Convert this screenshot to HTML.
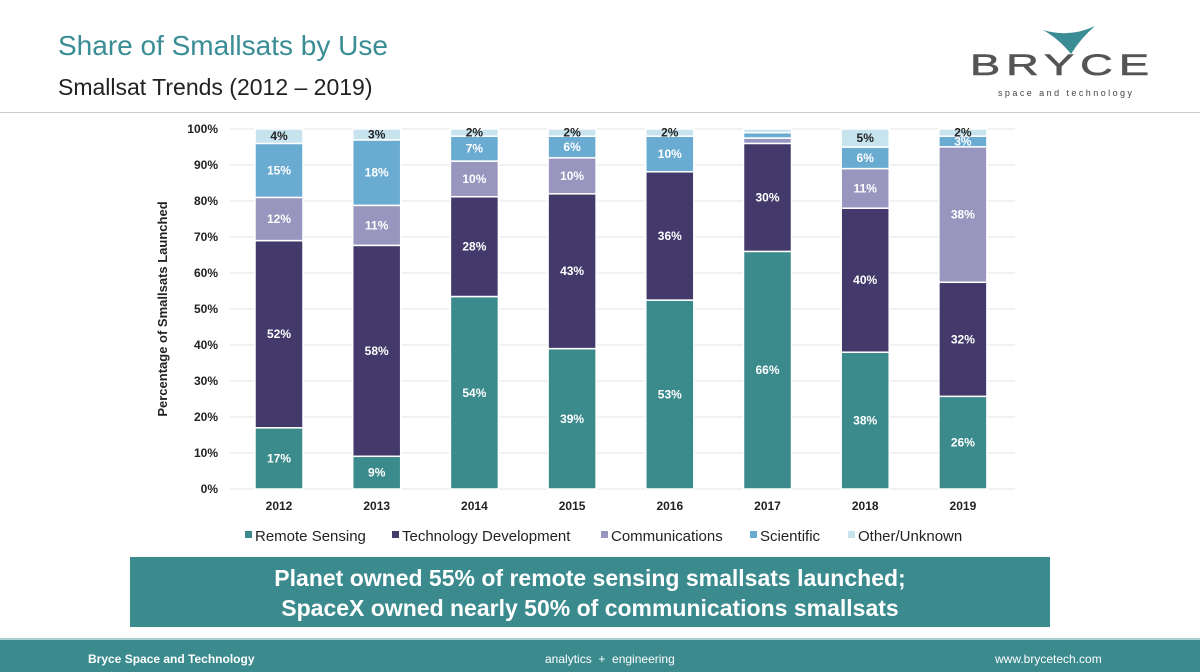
<!DOCTYPE html>
<html><head><meta charset="utf-8"><style>
body{margin:0;width:1200px;height:670px;background:#fff;font-family:"Liberation Sans","DejaVu Sans",sans-serif;position:relative;overflow:hidden}
.abs{position:absolute}
</style></head><body>
<div class="abs" style="left:58px;top:30px;font-size:28px;color:#3a8d94">Share of Smallsats by Use</div>
<div class="abs" style="left:58px;top:74px;font-size:23px;color:#222">Smallsat Trends (2012 – 2019)</div>
<div class="abs" style="left:940px;top:20px;width:240px;height:90px">
<svg width="240" height="90"><path d="M103 10 Q130 18 155 6 Q141 18 131 34 Q119 19 103 10Z" fill="#3a8d94"/>
<text x="30" y="55" font-size="30" font-family="Liberation Sans" fill="#555" textLength="185" lengthAdjust="spacingAndGlyphs" stroke="#555" stroke-width="0.6" letter-spacing="4">BRYCE</text>
<text x="58" y="76" font-size="9" fill="#444" textLength="134" lengthAdjust="spacing">space and technology</text></svg></div>
<div class="abs" style="left:0;top:112px;width:1200px;height:1px;background:#ccc"></div>
<svg class="abs" style="left:0;top:0" width="1200" height="670" id="chart"></svg>
<div class="abs" style="left:130px;top:557px;width:920px;height:70px;background:#3a8a8e;color:#fff;font-weight:bold;font-size:23px;text-align:center;line-height:30px;padding-top:6px;box-sizing:border-box">Planet owned 55% of remote sensing smallsats launched;<br>SpaceX owned nearly 50% of communications smallsats</div>
<div class="abs" style="left:0;top:638px;width:1200px;height:32px;background:#3a8a8e;border-top:2px solid #a8d0d3;color:#fff;font-size:12px">
<span class="abs" style="left:88px;top:12px;font-weight:bold">Bryce Space and Technology</span>
<span class="abs" style="left:545px;top:12px">analytics &nbsp;+ &nbsp;engineering</span>
<span class="abs" style="left:995px;top:12px">www.brycetech.com</span></div>
<script>
const years=["2012","2013","2014","2015","2016","2017","2018","2019"];
const seriesNames=["Remote Sensing","Technology Development","Communications","Scientific","Other/Unknown"];
const remote=[17,9,54,39,53,66,38,26];
const tech=[52,58,28,43,36,30,40,32];
const comms=[12,11,10,10,0,1.5,11,38];
const sci=[15,18,7,6,10,1.5,6,3];
const other=[4,3,2,2,2,1,5,2];
const yTicks=[0,10,20,30,40,50,60,70,80,90,100];
const colors=["#3b8a8c","#433a6b","#9896be","#6aabd2","#c6e3ee"];
const series=[remote,tech,comms,sci,other];
const svg=document.getElementById('chart');const NS="http://www.w3.org/2000/svg";
const y0=489,y1=129,xL=230,xR=1015,bw=48;
const ys=v=>y0-(y0-y1)*v/100;
const xs=i=>279+i*97.7;
function mk(t,a,txt){const e=document.createElementNS(NS,t);for(const k in a)e.setAttribute(k,a[k]);if(txt!=null)e.textContent=txt;svg.appendChild(e);return e;}
yTicks.forEach(t=>{
const g=mk('line',{x1:xL,x2:xR,y1:ys(t),y2:ys(t),stroke:'#e6e6e6','stroke-width':1});


const l=mk('text',{x:218,y:ys(t)+4,'text-anchor':'end','font-size':12,'font-weight':'bold',fill:'#222'},t+'%');


});
const yt=mk('text',{x:167,y:309,'text-anchor':'middle','font-size':13,'font-weight':'bold',fill:'#222',transform:'rotate(-90 167 309)'},'Percentage of Smallsats Launched');


years.forEach((yr,i)=>{
let tot=0;series.forEach(s=>tot+=s[i]);
let acc=0;
series.forEach((s,k)=>{
const v=s[i];if(v<=0)return;
const a=acc*100/tot,b=(acc+v)*100/tot;acc+=v;
const r=mk('rect',{x:xs(i)-bw/2,y:ys(b),width:bw,height:ys(a)-ys(b),fill:colors[k],stroke:'#fff','stroke-width':1.5});


if(v>=2){const t=mk('text',{x:xs(i),y:(ys(a)+ys(b))/2+4,'text-anchor':'middle','font-size':12,'font-weight':'bold',fill:k==4?'#222':'#fff'},Math.round(v)+'%');

}
});
const xl=mk('text',{x:xs(i),y:510,'text-anchor':'middle','font-size':12,'font-weight':'bold',fill:'#222'},yr);


});
const legX=[245,392,601,750,848];
seriesNames.forEach((n,k)=>{
const r=mk('rect',{x:legX[k],y:531,width:7,height:7,fill:colors[k]});


const t=mk('text',{x:legX[k]+10,y:541,'font-size':15,fill:'#222'},n);


});
</script>
</body></html>
